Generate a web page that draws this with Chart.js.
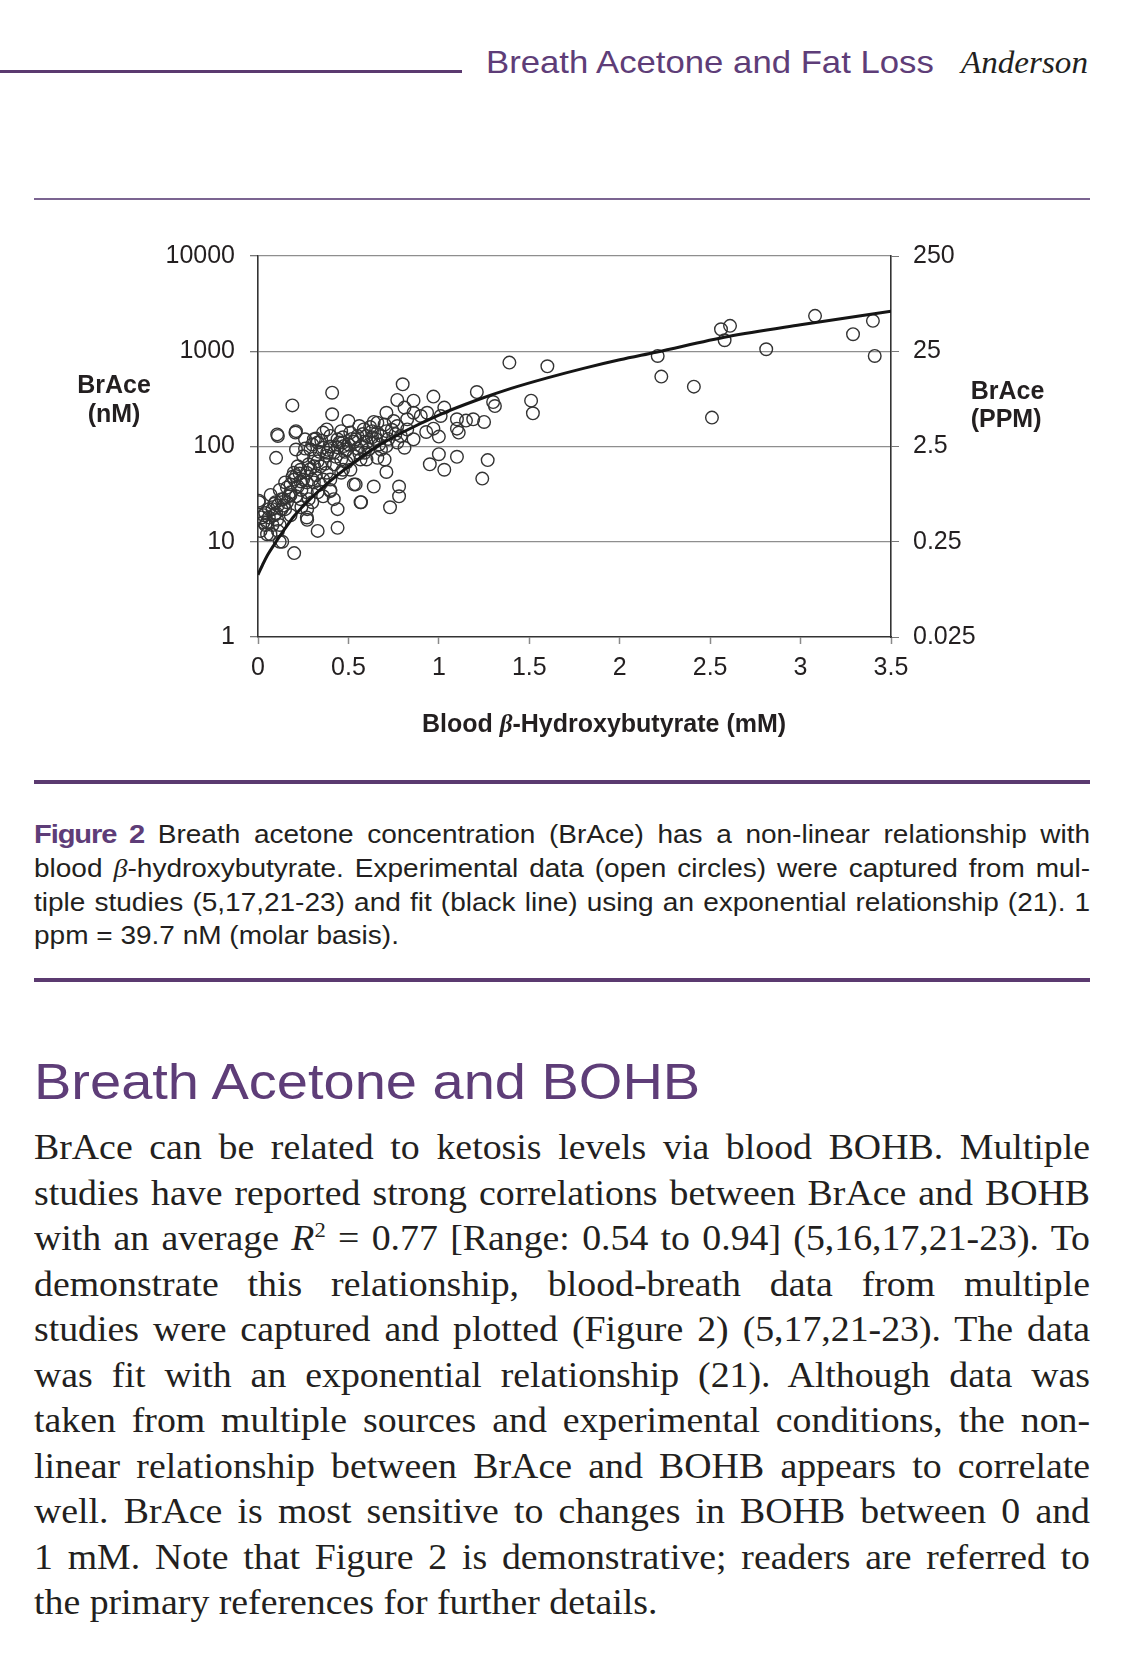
<!DOCTYPE html>
<html>
<head>
<meta charset="utf-8">
<script src="https://cdn.jsdelivr.net/npm/chart.js@4.4.0/dist/chart.umd.min.js"></script>
<style>
  html, body { margin: 0; padding: 0; background: #fff; }
  body { width: 1125px; height: 1657px; position: relative; overflow: hidden; color: #231f20; }
  .abs { position: absolute; white-space: nowrap; }
  .rule { position: absolute; background: #5b3a70; }
  .sans { font-family: "Liberation Sans", Arial, sans-serif; }
  .serif { font-family: "Liberation Serif", "Times New Roman", serif; }
  .purple { color: #5e3d78; }
  #chart { position: absolute; left: 0; top: 220px; }
  .axis-title { font-weight: bold; font-size: 25px; line-height: 29px; }
  .beta { font-family: "Liberation Serif", serif; font-style: italic; }
  .caption { position: absolute; left: 34px; top: 818.4px; width: 943px; font-size: 25px; line-height: 33.6px;
             transform: scaleX(1.12); transform-origin: 0 0; }
  .fig { font-family: "Liberation Sans Narrow", "Liberation Sans", sans-serif; font-weight: bold; font-size: 26px;
         letter-spacing: -1px; font-stretch: condensed; color: #5e3d78; }
  .body-text { position: absolute; left: 34px; top: 1125.4px; width: 977.8px; font-size: 35px; line-height: 45.5px;
               transform: scaleX(1.08); transform-origin: 0 0; }
  .line { text-align: justify; text-align-last: justify; }
  .line.last { text-align-last: left; }
  sup { font-size: 0.6em; line-height: 0; vertical-align: 0.6em; }
</style>
</head>
<body>

<div class="rule" style="left:0; top:69.5px; width:462px; height:3.5px;"></div>
<div class="abs sans purple" style="left:486px; top:46.4px; font-size:32px; line-height:32px; transform:scaleX(1.085); transform-origin:0 0;">Breath Acetone and Fat Loss</div>
<div class="abs serif" style="left:961px; top:46.2px; font-size:32px; line-height:32px; font-style:italic; transform:scaleX(1.035); transform-origin:0 0;">Anderson</div>

<div class="rule" style="left:34px; top:198px; width:1056px; height:2px; background:#7b6491;"></div>

<canvas id="chart" width="1125" height="520"></canvas>

<div class="abs sans axis-title" style="left:54px; top:370px; width:120px; text-align:center;">BrAce<br>(nM)</div>
<div class="abs sans axis-title" style="left:970.7px; top:377.3px; line-height:27.5px;">BrAce<br>(PPM)</div>
<div class="abs sans axis-title" style="left:404px; top:710.7px; width:400px; text-align:center; line-height:25px;">Blood <span class="beta">β</span>-Hydroxybutyrate (mM)</div>

<div class="rule" style="left:34px; top:779.5px; width:1056px; height:4px;"></div>

<div class="caption sans">
  <div class="line"><span class="fig">Figure 2</span> Breath acetone concentration (BrAce) has a non-linear relationship with</div>
  <div class="line">blood <span class="beta">β</span>-hydroxybutyrate. Experimental data (open circles) were captured from mul-</div>
  <div class="line">tiple studies (5,17,21-23) and fit (black line) using an exponential relationship (21). 1</div>
  <div class="line last">ppm = 39.7 nM (molar basis).</div>
</div>

<div class="rule" style="left:34px; top:978px; width:1056px; height:4px;"></div>

<div class="abs sans purple" style="left:34px; top:1057px; font-size:50px; line-height:50px; transform:scaleX(1.12); transform-origin:0 0;">Breath Acetone and BOHB</div>

<div class="body-text serif">
  <div class="line">BrAce can be related to ketosis levels via blood BOHB. Multiple</div>
  <div class="line">studies have reported strong correlations between BrAce and BOHB</div>
  <div class="line">with an average <i>R</i><sup>2</sup> = 0.77 [Range: 0.54 to 0.94] (5,16,17,21-23). To</div>
  <div class="line">demonstrate this relationship, blood-breath data from multiple</div>
  <div class="line">studies were captured and plotted (Figure 2) (5,17,21-23). The data</div>
  <div class="line">was fit with an exponential relationship (21). Although data was</div>
  <div class="line">taken from multiple sources and experimental conditions, the non-</div>
  <div class="line">linear relationship between BrAce and BOHB appears to correlate</div>
  <div class="line">well. BrAce is most sensitive to changes in BOHB between 0 and</div>
  <div class="line">1 mM. Note that Figure 2 is demonstrative; readers are referred to</div>
  <div class="line last">the primary references for further details.</div>
</div>

<script>
// axis ticks
const xTickValues = [0, 0.5, 1, 1.5, 2, 2.5, 3, 3.5];
const leftTickValues = [1, 10, 100, 1000, 10000];
const rightTickValues = [0.025, 0.25, 2.5, 25, 250];

// experimental data, blood BOHB (mM) and breath acetone (nM)
const bohb = [
    1.39, 1.60, 0.80, 0.41, 0.19, 1.21, 1.30, 1.31, 1.51, 1.52,
    0.77, 0.86, 0.97, 0.71, 0.81, 0.41, 0.50, 0.56, 0.64, 1.19,
    1.25, 1.10, 1.10, 1.11, 0.93, 0.97, 1.00, 1.03, 0.11, 0.21,
    0.21, 0.10, 0.32, 0.36, 0.40, 0.44, 0.47, 0.54, 0.60, 0.66,
    0.81, 0.71, 0.70, 0.66, 0.60, 0.95, 1.00, 1.03, 1.10, 1.27,
    1.24, 0.71, 0.54, 0.64, 0.78, 0.78, 0.73, 0.57, 0.44, 0.44,
    0.33, 0.27, 0.24, 0.36, 0.40, 0.005, 0.07, 0.20, 0.12, 0.05,
    0.235, 0.27, 0.21, 0.30, 0.345, 0.38, 0.33, 0.25, 0.29, 0.36,
    0.42, 0.46, 0.49, 0.53, 0.57, 0.59, 0.46, 0.47, 0.40, 0.16,
    0.18, 0.13, 0.11, 0.15, 0.18, 0.09, 0.04, 0.03, 0.08, 0.12,
    0.014, 0.235, 0.27, 0.30, 0.33, 0.20, 0.22, 0.26, 0.33, 0.38,
    0.46, 0.51, 0.55, 0.585, 0.63, 0.68, 0.71, 0.75, 0.77, 0.825,
    0.86, 0.90, 0.935, 1.01, 0.825, 0.79, 0.86, 0.64, 0.68, 0.77,
    0.004, 0.032, 0.06, 0.041, 0.069, 0.106, 0.097, 0.143, 0.134, 0.18,
    0.198, 0.235, 0.272, 0.272, 0.40, 0.419, 0.53, 0.567, 0.106, 0.207,
    0.309, 0.309, 0.345, 0.382, 0.474, 0.567, 0.511, 1.15,
    0.12, 0.15, 0.17, 0.19, 0.22, 0.25, 0.14, 0.09, 0.06, 0.10,
    0.28, 0.31, 0.26, 0.30, 0.35, 0.40, 0.45, 0.50, 0.55, 0.60,
    0.38, 0.42, 0.48, 0.52, 0.58, 0.62, 0.66, 0.70, 0.74, 0.65,
    0.18, 0.21, 0.23, 0.27, 0.29, 0.32, 0.34, 0.37, 0.39, 0.43,
    0.44, 0.47, 0.49, 0.53, 0.56, 0.61, 0.63, 0.67, 0.72, 0.76,
    0.13, 0.16, 0.08, 0.05, 0.02, 0.11, 0.24, 0.28, 0.31, 0.36,
    2.21, 2.23, 2.41, 2.51, 2.56, 2.61, 2.58, 2.81, 3.08, 3.29,
    3.40, 3.41
];
const brace = [
    760, 695, 450, 367, 270, 373, 293, 266, 303, 223,
    308, 303, 334, 226, 256, 218, 185, 164, 181, 193,
    181, 193, 154, 140, 142, 154, 127, 256, 129, 145,
    93, 76, 121, 140, 129, 119, 110, 119, 129, 178,
    97, 101, 73, 76, 73, 65, 83, 57, 78, 72,
    46, 54, 40, 38, 38, 30, 23, 26, 22, 14,
    13, 18, 23, 30, 34, 26, 31, 7.6, 10, 12,
    57, 53, 49, 45, 40, 53, 70, 79, 93, 97,
    86, 73, 93, 79, 101, 86, 53, 57, 45, 37,
    33, 28, 24, 22, 19, 19, 20, 16, 15, 15,
    13, 28, 33, 26, 33, 45, 62, 119, 110, 151,
    145, 140, 129, 151, 145, 129, 145, 185, 164, 193,
    226, 209, 226, 209, 151, 129, 119, 110, 93, 110,
    27, 19, 22, 15, 12, 17, 26, 24, 10, 31,
    53, 43, 22, 17, 35, 28, 40, 26, 134, 140,
    119, 42, 62, 86, 101, 73, 57, 187,
    35, 42, 30, 48, 38, 45, 28, 25, 18, 20,
    65, 75, 95, 105, 115, 100, 110, 105, 95, 110,
    80, 65, 88, 120, 135, 160, 140, 170, 150, 120,
    40, 30, 52, 42, 58, 50, 88, 66, 92, 78,
    98, 125, 68, 112, 85, 93, 125, 105, 120, 135,
    22, 26, 22, 16, 18, 13, 35, 28, 62, 45,
    893, 542, 425, 201, 1703, 1847, 1305, 1050, 2352, 1510,
    2084, 893
];

// exponential fit (black line)
const fitBohb = [0, 0.025, 0.05, 0.1, 0.15, 0.2, 0.3, 0.4, 0.5, 0.64, 0.8, 1.0, 1.2, 1.4, 1.6, 1.8, 2.0, 2.2, 2.6, 3.0, 3.5];
const fitBrace = [4.5, 5.7, 7.1, 10, 13.8, 18.6, 29.5, 43.6, 61.7, 95, 141, 214, 302, 407, 525, 661, 813, 977, 1430, 1900, 2630];

const points = bohb.map((x, i) => ({ x: x, y: brace[i] }));
const fitPoints = fitBohb.map((x, i) => ({ x: x, y: fitBrace[i] }));

Chart.defaults.font.family = "'Liberation Sans', Arial, sans-serif";
Chart.defaults.font.size = 25;
Chart.defaults.color = '#231f20';

const config = {
    type: 'scatter',
    data: {
        datasets: [{
            label: 'Fit',
            data: fitPoints,
            showLine: true,
            borderColor: '#151515',
            borderWidth: 3,
            pointRadius: 0,
            cubicInterpolationMode: 'monotone',
            order: 0
        }, {
            label: 'Data',
            data: points,
            pointRadius: 6.3,
            pointBorderWidth: 1.4,
            borderColor: '#333',
            backgroundColor: 'rgba(0,0,0,0)',
            order: 1
        }]
    },
    options: {
        responsive: false,
        animation: false,
        devicePixelRatio: 1,
        layout: { padding: { top: 36, left: 0, right: 0, bottom: 0 } },
        plugins: {
            legend: { display: false },
            tooltip: { enabled: false }
        },
        scales: {
            x: {
                type: 'linear',
                position: 'bottom',
                min: 0,
                max: 3.5,
                afterBuildTicks: (s) => { s.ticks = xTickValues.map(v => ({ value: v })); },
                afterFit: (s) => { s.height = 103; },
                ticks: { padding: 9, maxRotation: 0, autoSkip: false, callback: (v) => String(v) },
                grid: { drawOnChartArea: false, tickLength: 7, tickColor: '#8a8a8a', tickWidth: 1.5 },
                border: { color: '#333', width: 1.6 }
            },
            y: {
                type: 'logarithmic',
                position: 'left',
                min: 1,
                max: 10000,
                afterBuildTicks: (s) => { s.ticks = leftTickValues.map(v => ({ value: v })); },
                afterFit: (s) => { s.width = 258; },
                ticks: { padding: 15, autoSkip: false, callback: (v) => String(v) },
                grid: {
                    color: (ctx) => (ctx.tick && ctx.tick.value === 1) ? 'rgba(0,0,0,0)' : '#8e8e8e',
                    lineWidth: 1.3,
                    tickLength: 8,
                    tickColor: '#777'
                },
                border: { color: '#333', width: 1.6 }
            },
            y2: {
                type: 'logarithmic',
                position: 'right',
                min: 0.025,
                max: 250,
                afterBuildTicks: (s) => { s.ticks = rightTickValues.map(v => ({ value: v })); },
                afterFit: (s) => { s.width = 234; },
                ticks: { padding: 14, autoSkip: false, callback: (v) => String(v) },
                grid: { drawOnChartArea: false, tickLength: 8, tickColor: '#777' },
                border: { color: '#333', width: 1.6 }
            }
        }
    }
};

const chart = new Chart(document.getElementById('chart'), config);
</script>
</body>
</html>
